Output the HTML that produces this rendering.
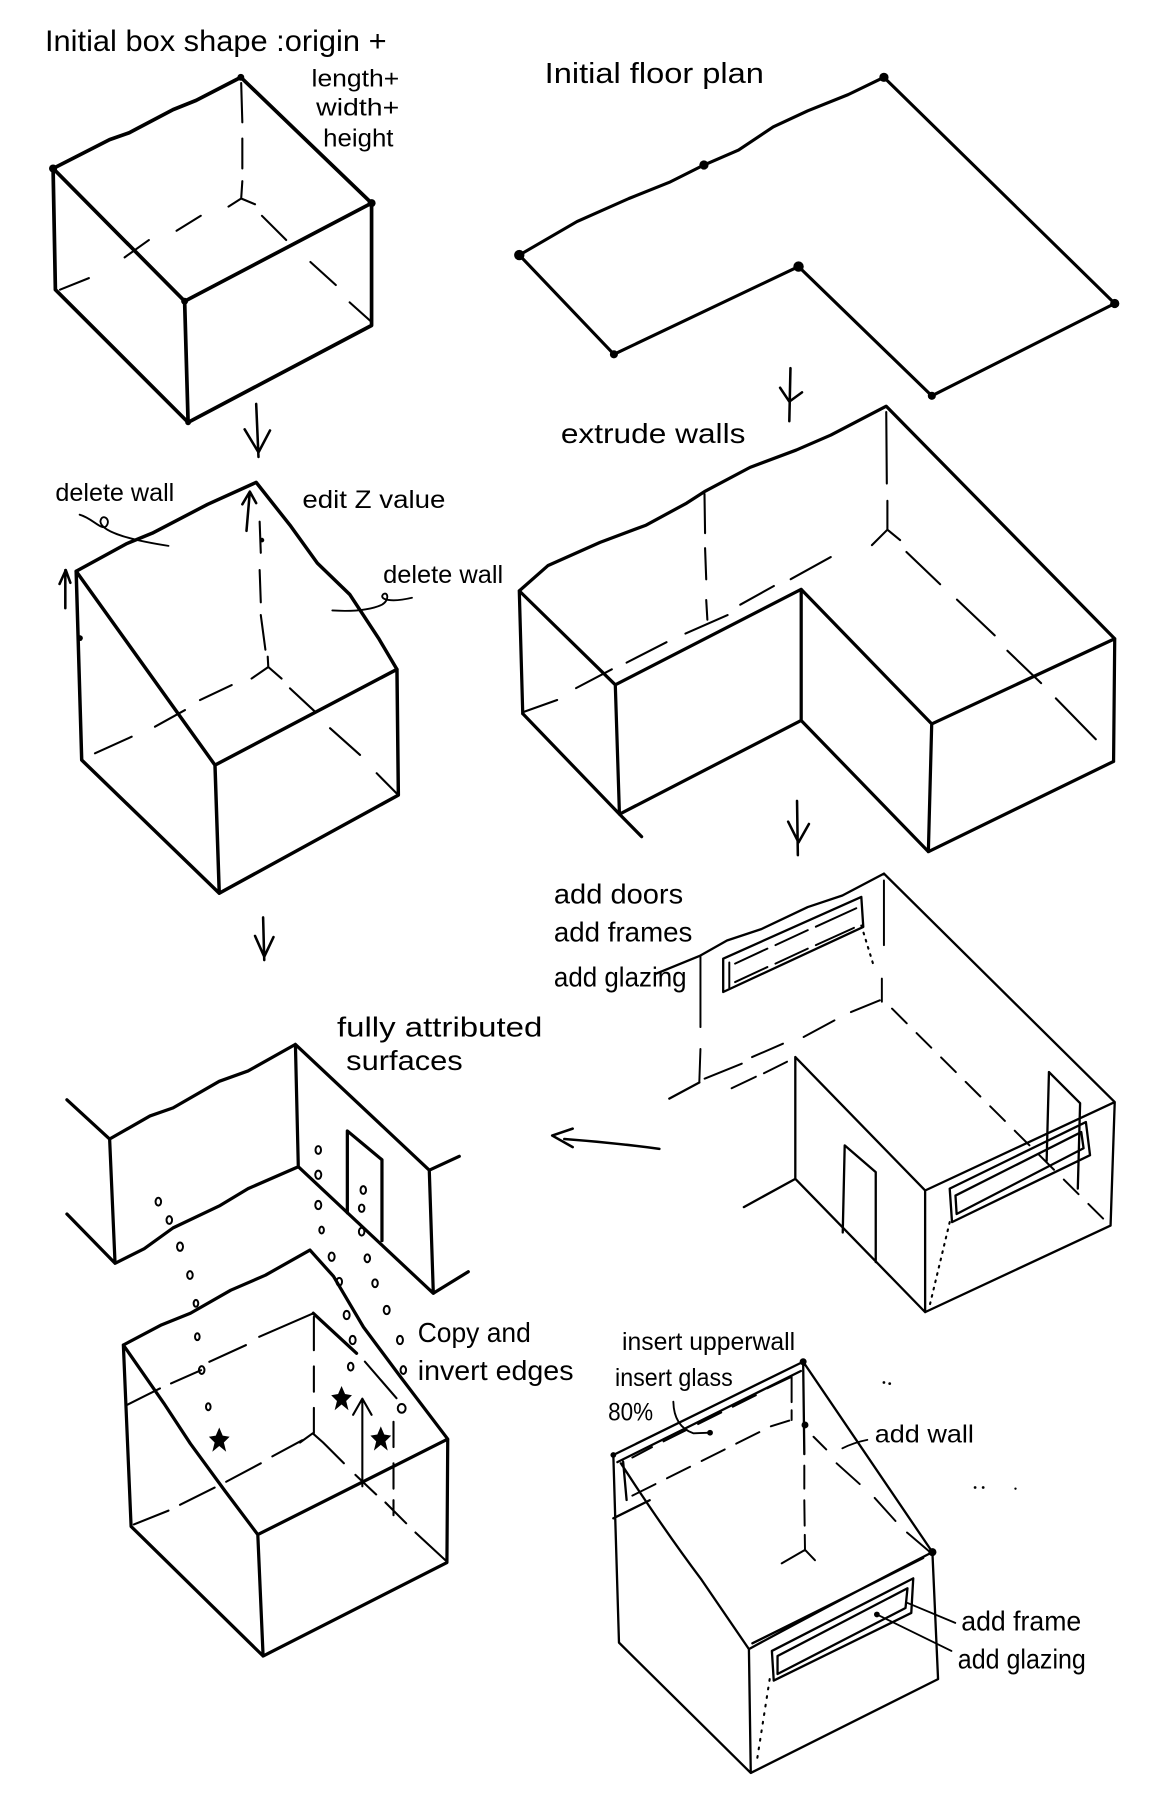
<!DOCTYPE html>
<html><head><meta charset="utf-8"><style>
html,body{margin:0;padding:0;background:#fff;}
svg{display:block;}
text{font-family:"Liberation Sans",sans-serif;fill:#000;}
</style></head><body>
<svg width="1164" height="1808" viewBox="0 0 1008.7 1566.7" preserveAspectRatio="none" xmlns="http://www.w3.org/2000/svg">
<rect x="0" y="0" width="1008.7" height="1566.7" fill="#fff"/>

<!-- ========== BOX 1 ========== -->
<g fill="none" stroke="#000" stroke-linecap="round" stroke-linejoin="round">
  <path stroke-width="3.2" d="M46,146 L95,121 L112,115 L150,95 L170,87 L208.7,67 L322,176 L322,282 L163,366 L48,251 Z M46,146 L160,261 L322,176 M160,261 L163,366"/>
  <path stroke-width="1.8" d="M209,72 L210,106 M210,120 L210,146 M210,157 L209,172 M198,179 L209,172 L221,177
    M174,187 L153,200 M129,208 L108,223 M77,241 L52,251
    M227,187 L248,208 M269,227 L291,247 M303,262 L322,279"/>
  <path stroke-width="2.2" d="M222,350 L224,396 M212,372 L224,392 L234,373"/>
</g>
<g fill="#000">
  <circle cx="46" cy="146" r="3.5"/><circle cx="208.7" cy="67" r="3"/><circle cx="322" cy="176" r="3.5"/><circle cx="160" cy="261" r="3"/><circle cx="163" cy="366" r="2.5"/>
</g>
<text x="39" y="44" font-size="26" textLength="296" lengthAdjust="spacingAndGlyphs">Initial box shape :origin +</text>
<text x="270" y="75" font-size="21" textLength="76" lengthAdjust="spacingAndGlyphs">length+</text>
<text x="274" y="100" font-size="21" textLength="72" lengthAdjust="spacingAndGlyphs">width+</text>
<text x="280" y="127" font-size="22" textLength="61" lengthAdjust="spacingAndGlyphs">height</text>

<!-- ========== FLOOR PLAN ========== -->
<g fill="none" stroke="#000" stroke-linecap="round" stroke-linejoin="round">
  <path stroke-width="2.7" d="M766,67 L735,82 L700,96 L670,110 L640,130 L610,143 L580,158 L545,172 L500,192 L450,221 L532,307 L692,231 L807.5,343 L966,263 Z"/>
  <path stroke-width="2.2" d="M685,319 L684,365 M676,336 L684,348 L695,340"/>
</g>
<g fill="#000">
  <circle cx="766" cy="67" r="4"/><circle cx="610" cy="143" r="4"/><circle cx="450" cy="221" r="4.5"/><circle cx="532" cy="307" r="3.5"/><circle cx="692" cy="231" r="4.5"/><circle cx="807.5" cy="343" r="3.5"/><circle cx="966" cy="263" r="4"/>
</g>
<text x="472" y="72" font-size="25" textLength="190" lengthAdjust="spacingAndGlyphs">Initial floor plan</text>

<!-- ========== EXTRUDE L-BOX ========== -->
<g fill="none" stroke="#000" stroke-linecap="round" stroke-linejoin="round">
  <path stroke-width="2.8" d="M450,512 L475,490 L520,470 L560,455 L595,436 L610.5,426 L650,405 L690,390 L720,377 L768,352 L966,553.5 L807.4,627.3 L694.3,510.7 L533.2,593.4 Z
    M450,512 L453,618.4 M533.2,593.4 L536.8,705.5 M694.3,510.7 L694.3,624.3 M807.4,627.3 L804.5,738 M966,553.5 L965,659.8
    M453,618.4 L536.8,705.5 L694.3,624.3 L804.5,738 L965,659.8 M536.8,705.5 L556,725"/>
  <path stroke-width="1.8" d="M610.5,428 L611,462 M611,475 L612,502 M612,520 L613,537
    M768,357 L768.5,419 M769,434 L769,459 M755.6,472.4 L769,459 L780,468
    M719.9,482.7 L685.2,501.9 M670.6,507.8 L641.5,524 M630.5,533 L594,549 M577.6,556.5 L543,574.2 M530.2,580 L499.2,596.3 M482.8,606.6 L453.6,617
    M785.5,478.3 L814.7,506.3 M829.3,519.6 L862,550.6 M873,563.9 L902.2,592 M915,605.2 L949.6,640.6"/>
  <path stroke-width="2.2" d="M690.7,694 L691.4,741 M683,712 L692,730 L701,714"/>
</g>
<text x="486" y="384" font-size="24" textLength="160" lengthAdjust="spacingAndGlyphs">extrude walls</text>

<!-- ========== BOX 2 ========== -->
<g fill="none" stroke="#000" stroke-linecap="round" stroke-linejoin="round">
  <path stroke-width="3" d="M66,495 L110,471 L132,462 L180,437 L222,418 L252,456 L275,488 L303,515 L328,553 L344,580 L186.3,663 Z
    M66,495 L70.8,658.6 L190,774 L345.2,689 L344,580 M186.3,663 L190,774"/>
  <path stroke-width="1.8" d="M225,452 L226,479 M225,494 L226,522 M226,533 L230,563 M232,569 L232.5,578 M218,588 L232.5,578 L244,588
    M200.8,593.6 L173.3,606.6 M160.3,615.3 L134.3,629.7 M114.1,638.4 L82.3,652.8
    M251.3,596.5 L273,616.7 M286,631 L312,654.2 M326.4,670 L343.7,687.5"/>
  <path stroke-width="2.2" d="M213.6,460 L216.5,426 M210,437 L216.5,426 L222,436
    M56.6,527 L56.6,494 M51.6,506 L57,494 L61,505
    M228,795 L229,832 M221,811 L229,829 L237,812"/>
  <path stroke-width="1.6" d="M69,446 C80,449 88,460 92,456 C97,450 88,444 87,452 C88,462 120,469 146,473
    M288,529 C305,530 320,529 331,524 C338,520 336,512 332,515 C328,520 340,522 357,518"/>
</g>
<g fill="#000"><circle cx="227" cy="468" r="2"/><circle cx="69.3" cy="553" r="2.5"/></g>
<text x="48" y="434" font-size="22" textLength="103" lengthAdjust="spacingAndGlyphs">delete wall</text>
<text x="262" y="440" font-size="22" textLength="124" lengthAdjust="spacingAndGlyphs">edit Z value</text>
<text x="332" y="505" font-size="22" textLength="104" lengthAdjust="spacingAndGlyphs">delete wall</text>

<!-- ========== ADD DOORS BOX ========== -->
<g fill="none" stroke="#000" stroke-linecap="round" stroke-linejoin="round">
  <path stroke-width="2" d="M766,757 L730,776 L700,786 L660,805 L630,815 L607,828 L568,844
    M766,757 L966,955 L962.4,1062 L801.7,1137 L801.7,1031.6 L966,955
    M689.2,916 L801.7,1031.6 M689.2,916 L689.2,1021.5 L801.7,1137 M689.2,1021.5 L644.6,1046
    M730.3,1068 L732,992.5 L758.9,1015.7 L758.9,1093.7
    M626.7,830.7 L746.4,777.2 L748.1,803.2 L626.7,859.6 Z
    M823,1030 L941,972.3 L944.6,1001 L825,1059 Z
    M828,1036 L937,981 L939,995 L829,1052 Z
    M909,929 L907,1006 M909,929 L936,956 L934,1030 M606,938 L580,952"/>
  <path stroke-width="1.7" d="M607,828 L607,890 M607,909 L606,938
    M610.6,934.7 L642.8,921.7 M651.7,916 L678.5,904.4 M696.4,898.6 L723.1,884.2 M737.4,877 L762.4,866.8
    M634,943 L655,933 M662,930 L682,920
    M766,763 L766,819 M764.2,848 L764.2,868
    M632,834 L632,856 M637,835 L665,822 M672,819 L700,806 M707,803 L742,787 M637,851 L665,838 M672,835 L700,822 M707,819 L740,804"/>
  <path stroke-width="1.7" stroke-dasharray="18,12" d="M773,874 L962,1062"/>
  <path stroke-width="1.8" stroke-dasharray="1.5,5" d="M746.4,802 L757,836.5 M823,1059 L805,1134"/>
  <path stroke-width="2.2" d="M489,987 Q530,990 571.4,995.5 M496.3,978 L478.5,984 L496.3,994"/>
</g>
<text x="480" y="783" font-size="24" textLength="112" lengthAdjust="spacingAndGlyphs">add doors</text>
<text x="480" y="816" font-size="24" textLength="120" lengthAdjust="spacingAndGlyphs">add frames</text>
<text x="480" y="855" font-size="24" textLength="115" lengthAdjust="spacingAndGlyphs">add glazing</text>

<!-- ========== FULLY ATTRIBUTED SURFACES ========== -->
<g fill="none" stroke="#000" stroke-linecap="round" stroke-linejoin="round">
  <path stroke-width="2.8" d="M58,953 L95,987 L99.7,1094.7 L58,1052
    M95,987 L130,967 L150,960 L190,937 L215,928 L256,905 L258.5,1011 L215,1030 L190,1045 L150,1064 L125,1082 L99.7,1094.7
    M256,905 L372,1014 L375.5,1120.7 L258.5,1011
    M372,1014 L398,1002 M375.5,1120.7 L405.8,1102
    M301,1051 L301,980 L331,1005 L331,1075
    M106.9,1165.5 L140,1148 L165,1138 L200,1118 L230,1105 L268.6,1083.2 L289,1106 L315,1150 L347,1193 L388,1247 L387.3,1354 L228,1435 L113.6,1322.7 Z
    M106.9,1165.5 L142,1216 L165,1251 L195,1292 L223.4,1329.8 L388,1247 M223.4,1329.8 L228,1435
    M271.5,1138 L309,1172.7"/>
  <path stroke-width="1.8" d="M316.2,1179.9 L343.6,1211.6
    M109.8,1217.5 L138.6,1203.1 M148.2,1198.8 L174.2,1187.3 M181.4,1180.1 L213.1,1165.6 M224.6,1158.4 L271.5,1138
    M272,1141 L272,1170 M272,1184 L272,1206 M272,1220 L272,1242
    M260,1250 L271,1242 L280,1250
    M262,1248 L236,1262 M226,1268 L196,1284 M186,1289 L156,1304 M146,1309 L116,1321
    M280,1250 L298,1268 M308,1278 L326,1295 M334,1302 L352,1320 M360,1328 L386,1352
    M341,1232 L341,1254 M341,1268 L341,1290 M341,1300 L341,1313
    M314,1288 L314,1212 M306,1226 L314,1212 L322,1226"/>
  <g stroke-width="1.7">
    <ellipse cx="137.2" cy="1041.3" rx="2.4" ry="3.4"/><ellipse cx="146.7" cy="1057.2" rx="2.4" ry="3.4"/><ellipse cx="156" cy="1080.3" rx="2.6" ry="3.6"/><ellipse cx="164.6" cy="1104.9" rx="2.4" ry="3.4"/><ellipse cx="169.8" cy="1129.4" rx="2" ry="3"/><ellipse cx="171" cy="1158.3" rx="2" ry="3"/><ellipse cx="174.8" cy="1187.2" rx="2.4" ry="3.4"/><ellipse cx="180.5" cy="1219" rx="2" ry="3"/>
    <ellipse cx="275.8" cy="996.5" rx="2.4" ry="3.4"/><ellipse cx="275.8" cy="1018" rx="2.6" ry="3.6"/><ellipse cx="275.8" cy="1044.2" rx="2.6" ry="3.6"/><ellipse cx="278.7" cy="1065.9" rx="2" ry="3"/><ellipse cx="287.4" cy="1089" rx="2.6" ry="3.6"/><ellipse cx="294" cy="1110.7" rx="2.4" ry="3.4"/><ellipse cx="300.4" cy="1139.5" rx="2.6" ry="3.6"/><ellipse cx="305.6" cy="1161.2" rx="2.6" ry="3.6"/><ellipse cx="303.9" cy="1184.3" rx="2.4" ry="3.4"/>
    <ellipse cx="314.8" cy="1031.2" rx="2.4" ry="3.4"/><ellipse cx="313.4" cy="1047" rx="2.4" ry="3.2"/><ellipse cx="313.4" cy="1067.3" rx="2.4" ry="3.4"/><ellipse cx="318.3" cy="1090.4" rx="2.4" ry="3.4"/><ellipse cx="325" cy="1112" rx="2.4" ry="3.4"/><ellipse cx="335.1" cy="1135.2" rx="2.6" ry="3.6"/><ellipse cx="346.6" cy="1161.2" rx="2.6" ry="3.6"/><ellipse cx="349.5" cy="1187.2" rx="2.4" ry="3.4"/><ellipse cx="348.1" cy="1220.4" rx="3.4" ry="3.8"/>
  </g>
</g>
<g fill="#000">
  <path d="M296,1201 L299,1208 L305,1209 L300,1214 L302,1222 L296,1217 L290,1222 L292,1214 L287,1209 L293,1208 Z"/>
  <path d="M190,1237 L193,1244 L199,1245 L194,1250 L196,1258 L190,1253 L184,1258 L186,1250 L181,1245 L187,1244 Z"/>
  <path d="M330,1236 L333,1243 L339,1244 L334,1249 L336,1257 L330,1252 L324,1257 L326,1249 L321,1244 L327,1243 Z"/>
</g>
<text x="292" y="898" font-size="24" textLength="178" lengthAdjust="spacingAndGlyphs">fully attributed</text>
<text x="300" y="927" font-size="24" textLength="101" lengthAdjust="spacingAndGlyphs">surfaces</text>
<text x="362" y="1163" font-size="24" textLength="98" lengthAdjust="spacingAndGlyphs">Copy and</text>
<text x="362" y="1196" font-size="24" textLength="135" lengthAdjust="spacingAndGlyphs">invert edges</text>

<!-- ========== BOTTOM-RIGHT BOX ========== -->
<g fill="none" stroke="#000" stroke-linecap="round" stroke-linejoin="round">
  <path stroke-width="2" d="M696,1180 L808,1345 L812.9,1455 L650.6,1536.3 L536.4,1423.4 L531.5,1260.8 L696,1180
    M535,1267 L694,1188
    M531.5,1315.7 L563,1300
    M649,1429 Q730,1385 808,1345 M652,1424 Q725,1388 800,1350 M649,1429 L650.6,1536.3
    M538,1268 Q575,1325 608,1369 L649,1429
    M696,1180 L697,1260 M540,1266.6 L543,1299.8
    M668.9,1430.6 L791.4,1367.7 L789.7,1397.7 L670.5,1456.3 Z
    M673.8,1435 L786.4,1376.3 L784.7,1393.4 L673.8,1450.6 Z"/>
  <path stroke-width="1.7" d="M697,1270 L697,1290 M697,1300 L697.3,1322 M697.4,1330 L697.6,1343 M677.4,1354.7 L697.6,1343 L706.2,1352
    M705,1245 L716,1256 M725,1268 L745,1286 M758,1298 L776,1318 M786,1328 L806,1345
    M548,1263 L565,1254 M575,1249 L595,1239 M605,1234 L625,1224 M635,1219 L655,1209 M665,1203 L686,1193 L686,1215 M686,1222 L686,1230.5
    M548,1296 L568,1286 M578,1281 L598,1271 M608,1266 L628,1256 M638,1251 L658,1241 M668,1236 L684,1231"/>
  <path stroke-width="1.8" stroke-dasharray="1.5,6" d="M667,1455 L655.6,1527.7"/>
  <path stroke-width="1.6" d="M786.4,1389 L827.8,1406.3 M759.9,1399 L824.5,1430.6
    M583.5,1214.6 Q584,1236 600.8,1242 L615.3,1241.5
    M730,1255 Q740,1250 751.6,1247.7"/>
</g>
<g fill="#000">
  <circle cx="696" cy="1180" r="3"/><circle cx="808" cy="1345" r="3.5"/><circle cx="697.6" cy="1234.8" r="3"/><circle cx="531.5" cy="1260.8" r="2.5"/>
  <circle cx="615.3" cy="1241.5" r="2.5"/><circle cx="759.9" cy="1399" r="2.5"/>
  <circle cx="766" cy="1198" r="1.2"/><circle cx="771" cy="1199" r="1.2"/>
  <circle cx="845" cy="1289" r="1.2"/><circle cx="852" cy="1289" r="1.2"/><circle cx="880" cy="1290" r="1"/>
</g>
<text x="539" y="1170" font-size="22" textLength="150" lengthAdjust="spacingAndGlyphs">insert upperwall</text>
<text x="533" y="1201" font-size="22" textLength="102" lengthAdjust="spacingAndGlyphs">insert glass</text>
<text x="527" y="1231" font-size="22" textLength="39" lengthAdjust="spacingAndGlyphs">80%</text>
<text x="758" y="1250" font-size="22" textLength="86" lengthAdjust="spacingAndGlyphs">add wall</text>
<text x="833" y="1413" font-size="24" textLength="104" lengthAdjust="spacingAndGlyphs">add frame</text>
<text x="830" y="1446" font-size="24" textLength="111" lengthAdjust="spacingAndGlyphs">add glazing</text>
</svg>
</body></html>
